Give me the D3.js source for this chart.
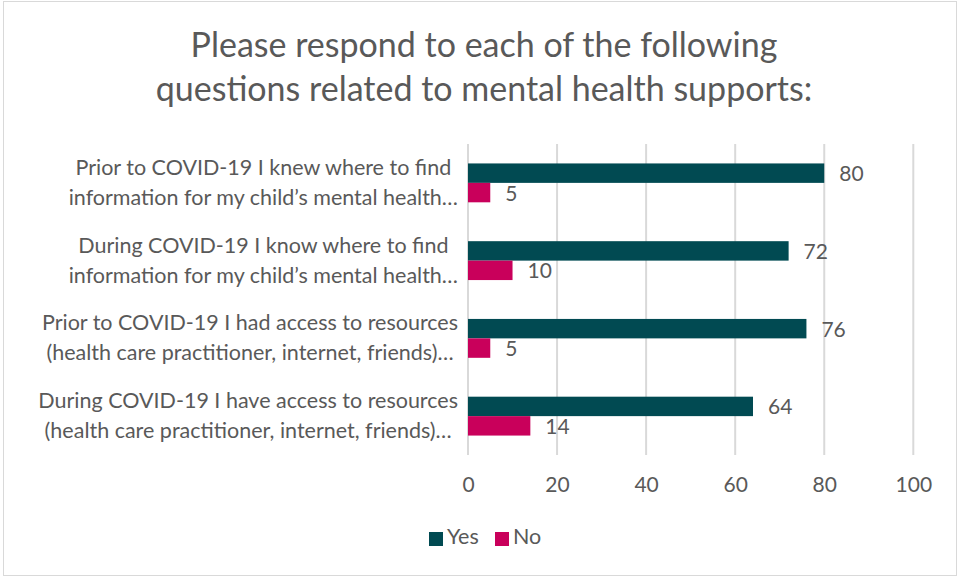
<!DOCTYPE html>
<html>
<head>
<meta charset="utf-8">
<script src="https://cdn.jsdelivr.net/npm/d3@7"></script>
<style>
  html, body { margin: 0; padding: 0; background: #fff; }
  svg { display: block; font-family: Lato, "Open Sans", sans-serif; }
</style>
</head>
<body>
<svg id="chart" width="959" height="577"></svg>
<script>
// Survey questions (each shown on two wrapped lines)
const questions = [
  ["Prior to COVID-19 I knew where to find", "information for my child\u2019s mental health\u2026"],
  ["During COVID-19 I know where to find", "information for my child\u2019s mental health\u2026"],
  ["Prior to COVID-19 I had access to resources", "(health care practitioner, internet, friends)\u2026"],
  ["During COVID-19 I have access to resources", "(health care practitioner, internet, friends)\u2026"]
];
const seriesNames = ["Yes", "No"];
const yesValues = [80, 72, 76, 64];
const noValues = [5, 10, 5, 14];
const xTicks = [0, 20, 40, 60, 80, 100];
const titleLines = [
  "Please respond to each of the following",
  "questions related to mental health supports:"
];

const colors = { Yes: "#014A52", No: "#C9005B" };
const textColor = "#595959";
const gridColor = "#D9D9D9";

const svg = d3.select("#chart");
const W = 959, H = 577;

// outer chart frame
svg.append("rect")
  .attr("x", 3.5).attr("y", 1.5)
  .attr("width", W - 6).attr("height", H - 3)
  .attr("fill", "#fff").attr("stroke", gridColor).attr("stroke-width", 1);

const plot = { left: 468, right: 913.3, top: 144, bottom: 455 };

const x = d3.scaleLinear().domain([0, 100]).range([plot.left, plot.right]);
const y0 = d3.scaleBand()
  .domain(questions.map((q, i) => i))
  .range([plot.top, plot.bottom])
  .padding(0);
const y1 = d3.scaleBand()
  .domain(seriesNames)
  .range([0, y0.bandwidth()])
  .paddingInner(0)
  .paddingOuter(1);

// shrink a text element to a maximum width when the font runs wide
function fit(sel, maxW) {
  sel.each(function () {
    const len = this.getComputedTextLength();
    if (len > maxW) {
      d3.select(this).attr("textLength", maxW).attr("lengthAdjust", "spacingAndGlyphs");
    }
  });
}

// title
titleLines.forEach((t, i) => {
  svg.append("text")
    .attr("x", 484)
    .attr("y", 57 + i * 44)
    .attr("text-anchor", "middle")
    .attr("fill", textColor)
    .style("font-size", "34px")
    .text(t)
    .call(fit, 690);
});

// vertical gridlines
svg.append("g")
  .selectAll("line")
  .data(xTicks)
  .join("line")
  .attr("x1", d => x(d)).attr("x2", d => x(d))
  .attr("y1", plot.top).attr("y2", plot.bottom)
  .attr("stroke", gridColor).attr("stroke-width", 2);

// x axis tick labels
const xAxis = d3.axisBottom(x).tickValues(xTicks).tickSize(0).tickPadding(0);
const gx = svg.append("g")
  .attr("transform", `translate(0, ${plot.bottom})`)
  .call(xAxis);
gx.select(".domain").remove();
gx.selectAll("text")
  .attr("dy", null)
  .attr("y", 36.5)
  .attr("fill", textColor)
  .style("font-size", "21px")
  .style("font-family", "Lato, 'Open Sans', sans-serif");

// bars
const rows = questions.map((q, i) => ({ i, Yes: yesValues[i], No: noValues[i] }));
const groups = svg.append("g")
  .selectAll("g")
  .data(rows)
  .join("g")
  .attr("transform", d => `translate(0, ${y0(d.i)})`);

groups.selectAll("rect")
  .data(d => seriesNames.map(s => ({ s, v: d[s] })))
  .join("rect")
  .attr("x", x(0))
  .attr("y", d => y1(d.s))
  .attr("width", d => x(d.v) - x(0))
  .attr("height", y1.bandwidth())
  .attr("fill", d => colors[d.s]);

// value labels
groups.selectAll("text.val")
  .data(d => seriesNames.map(s => ({ s, v: d[s] })))
  .join("text")
  .attr("class", "val")
  .attr("x", d => x(d.v) + 15)
  .attr("y", d => y1(d.s) + y1.bandwidth() / 2 + 8)
  .attr("fill", textColor)
  .style("font-size", "21px")
  .text(d => d.v);

// category labels: two lines centred on each other, block right-aligned
const labelRight = 458;
questions.forEach((lines, i) => {
  const cy = y0(i) + y0.bandwidth() / 2;
  const g = svg.append("g");
  const texts = lines.map((t, k) =>
    g.append("text")
      .attr("y", cy - 8 + k * 30)
      .attr("text-anchor", "middle")
      .attr("fill", textColor)
      .style("font-size", "21.5px")
      .text(t)
      .call(fit, 440)
  );
  const widths = texts.map(t => Math.min(440, t.node().getComputedTextLength()));
  const maxW = d3.max(widths);
  texts.forEach(t => t.attr("x", labelRight - maxW / 2));
});

// legend
const legend = svg.append("g");
const legendItems = [{ s: "Yes", x: 429 }, { s: "No", x: 495 }];
legendItems.forEach(item => {
  legend.append("rect")
    .attr("x", item.x).attr("y", 532)
    .attr("width", 14).attr("height", 14)
    .attr("fill", colors[item.s]);
  legend.append("text")
    .attr("x", item.x + 18)
    .attr("y", 544)
    .attr("fill", textColor)
    .style("font-size", "21.5px")
    .text(item.s);
});
</script>
</body>
</html>
